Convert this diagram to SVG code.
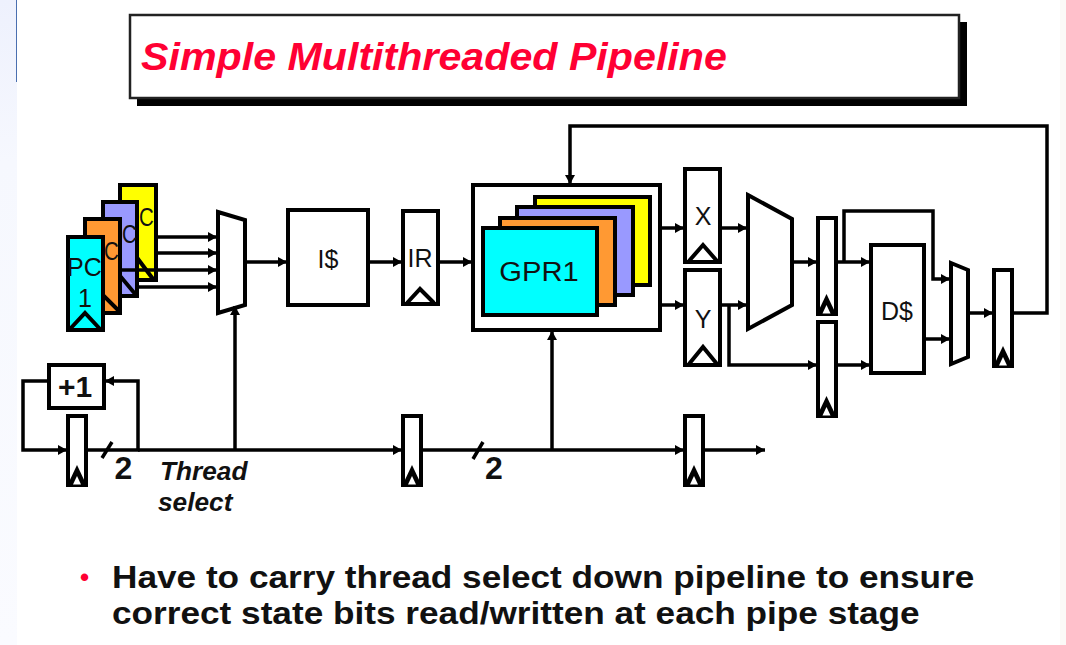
<svg xmlns="http://www.w3.org/2000/svg" width="1066" height="645" viewBox="0 0 1066 645">
<style>
.s{fill:none;stroke:#000;stroke-width:4;stroke-linejoin:miter}
.b{fill:#fff;stroke:#000;stroke-width:4}
.c{fill:none;stroke:#000;stroke-width:3.5}
.a{marker-end:url(#ah)}
.t{font-family:"Liberation Sans",Arial,sans-serif;fill:#111}
.cy{fill:#00ffff}.or{fill:#ff9933}.pu{fill:#9999ff}.ye{fill:#ffff00}
.fr{stroke:#000;stroke-width:4}
</style>
<defs>
<marker id="ah" markerUnits="userSpaceOnUse" markerWidth="10" markerHeight="12" refX="9" refY="6" orient="auto"><path d="M0,1L9,6L0,11z" fill="#000"/></marker>
<linearGradient id="lg" x1="0" y1="0" x2="0" y2="1"><stop offset="0" stop-color="#eef1fd"/><stop offset=".25" stop-color="#f6f8fe"/><stop offset="1" stop-color="#fafbff"/></linearGradient>
<g id="nclk"><path d="M-9,23L0,4L9,23z" fill="#000"/><path d="M-4,23.500L0,15L4,23.500z" fill="#fff"/></g>
</defs>
<rect width="1066" height="645" fill="#fff"/>
<rect x="0" y="0" width="17" height="645" fill="url(#lg)"/>
<rect x="1060" y="0" width="6" height="645" fill="#fbf9f7"/>
<rect x="16" y="0" width="1" height="82" fill="#4a6fb0"/>

<g id="title">
<rect x="137" y="22" width="830" height="84" fill="#000"/>
<rect x="130" y="15" width="829" height="83" fill="#fff" stroke="#222" stroke-width="2.500"/>
<text transform="translate(141,70) scale(1.07,1)" class="t" style="fill:#ff0033" font-size="38.500" font-weight="bold" font-style="italic">Simple Multithreaded Pipeline</text>
</g>

<g id="pc-yellow"><rect x="120" y="185" width="36" height="95" class="ye fr"/><path d="M124,279L138,259L153,279" class="s"/><text transform="translate(139,226) scale(.82,1)" class="t" font-size="25">C</text></g>
<g id="pc-purple"><rect x="103" y="202" width="34" height="94" class="pu fr"/><path d="M106,295L121,277L136,295" class="s"/><text transform="translate(122,243) scale(.82,1)" class="t" font-size="25">C</text></g>
<g id="pc-orange"><rect x="85" y="219" width="35" height="94" class="or fr"/><path d="M90,312L105,297L120,312" class="s"/><text transform="translate(104,260) scale(.82,1)" class="t" font-size="25">C</text></g>
<g id="pc-cyan"><rect x="68" y="237" width="35" height="93" class="cy fr"/><path d="M70,329L85,313L100,329" class="s"/><text x="67" y="276" class="t" font-size="25">PC</text><text x="78" y="307" class="t" font-size="25">1</text></g>

<g id="thread-mux"><path d="M218,212L245,220V305L218,313z" class="b"/></g>
<g id="icache"><rect x="288" y="210" width="80" height="95" class="b"/><text x="328" y="268" text-anchor="middle" class="t" font-size="25">I$</text></g>
<g id="ir"><rect x="403" y="211" width="35" height="93" class="b"/><path d="M407,303L420,289L434,303" class="s"/><text x="420" y="267" text-anchor="middle" class="t" font-size="25">IR</text></g>

<g id="gpr">
<rect x="473" y="185" width="187" height="145" class="b"/>
<rect x="535" y="197" width="115" height="88" class="ye fr"/>
<rect x="517" y="207" width="116" height="88" class="pu fr"/>
<rect x="500" y="218" width="115" height="87" class="or fr"/>
<rect x="483" y="228" width="114" height="87" class="cy fr"/>
<text transform="translate(539,281) scale(1.08,1)" text-anchor="middle" class="t" font-size="27">GPR1</text>
</g>

<g id="x-reg"><rect x="685" y="169" width="35" height="93" class="b"/><path d="M689,261L703,245L717,261" class="s"/><text x="703" y="225" text-anchor="middle" class="t" font-size="25">X</text></g>
<g id="y-reg"><rect x="685" y="270" width="35" height="95" class="b"/><path d="M689,364L703,347L717,364" class="s"/><text x="703" y="328" text-anchor="middle" class="t" font-size="25">Y</text></g>
<g id="alu"><path d="M748,195L792,219V305L748,329z" class="b"/></g>
<g id="reg-a"><rect x="818" y="218" width="18" height="96" class="b"/><use href="#nclk" x="826.500" y="290"/></g>
<g id="reg-b"><rect x="818" y="322" width="18" height="94" class="b"/><use href="#nclk" x="826.500" y="392"/></g>
<g id="dcache"><rect x="871" y="245" width="53" height="128" class="b"/><text x="897" y="320" text-anchor="middle" class="t" font-size="25">D$</text></g>
<g id="wb-mux"><path d="M951,263L968,270V357L951,364z" class="b"/></g>
<g id="reg-w"><rect x="994" y="270" width="18" height="96" class="b"/><use href="#nclk" x="1003" y="342"/></g>

<g id="inc"><rect x="49" y="365" width="55" height="43" class="b"/><text x="75" y="397" text-anchor="middle" class="t" font-size="30" font-weight="bold">+1</text></g>
<g id="reg-t0"><rect x="68" y="416" width="18" height="69" class="b"/><use href="#nclk" x="77" y="461"/></g>
<g id="reg-t1"><rect x="403" y="416" width="18" height="69" class="b"/><use href="#nclk" x="412" y="461"/></g>
<g id="reg-t2"><rect x="685" y="416" width="18" height="69" class="b"/><use href="#nclk" x="694" y="461"/></g>

<g id="connectors">
<path d="M158,237H217" class="c a"/>
<path d="M158,253H217" class="c a"/>
<path d="M122,270H217" class="c a"/>
<path d="M139,287H217" class="c a"/>
<path d="M245,262H287" class="c a"/>
<path d="M369,262H402" class="c a"/>
<path d="M439,262H472" class="c a"/>
<path d="M661,228H684" class="c a"/>
<path d="M661,305H684" class="c a"/>
<path d="M721,228H747" class="c a"/>
<path d="M721,305H747" class="c a"/>
<path d="M792,262H817" class="c a"/>
<path d="M837,262H870" class="c a"/>
<path d="M844,262V211H933V279H950" class="c a"/>
<path d="M729,305V365H817" class="c a"/>
<path d="M837,365H870" class="c a"/>
<path d="M925,339H950" class="c a"/>
<path d="M968,313H993" class="c a"/>
<path d="M1013,313H1047V126H570V184" class="c a"/>
<path d="M47,381H23V450H67" class="c a"/>
<path d="M87,450H138V381H105" class="c a"/>
<path d="M235,450V306" class="c a"/>
<path d="M138,450H402" class="c a"/>
<path d="M422,450H684" class="c a"/>
<path d="M704,450H765" class="c a"/>
<path d="M552,450V331" class="c a"/>
<path d="M112,442L102,458M483,442L473,459" class="c"/>
</g>

<text x="114.500" y="479" class="t" font-size="32" font-weight="bold">2</text>
<text x="485" y="479" class="t" font-size="32" font-weight="bold">2</text>
<text transform="translate(160,480) scale(1.05,1)" class="t" font-size="25" font-weight="bold" font-style="italic">Thread</text>
<text transform="translate(158,511) scale(1.05,1)" class="t" font-size="25" font-weight="bold" font-style="italic">select</text>

<text x="80" y="586" class="t" style="fill:#ff0033" font-size="26" font-weight="bold">•</text>
<text transform="translate(112,588) scale(1.1,1)" class="t" font-size="32" font-weight="bold">Have to carry thread select down pipeline to ensure</text>
<text transform="translate(112,624) scale(1.1,1)" class="t" font-size="32" font-weight="bold">correct state bits read/written at each pipe stage</text>
</svg>
